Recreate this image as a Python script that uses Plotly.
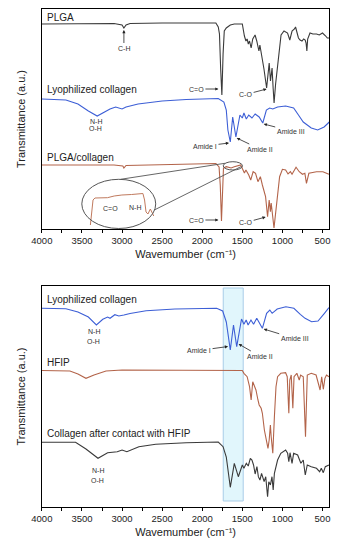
import plotly.graph_objects as go

# ---------------- data (wavenumber cm^-1, transmittance a.u. with offsets) ----------------
# Top panel
plga_wn = [4000, 3800, 3500, 3100, 3000, 2977, 2950, 2900, 2500, 2000, 1830, 1800, 1785, 1770, 1755, 1740,
           1725, 1700, 1650, 1600, 1500, 1474, 1455, 1440, 1425, 1410, 1390, 1370, 1341, 1320, 1293, 1281,
           1260, 1230, 1197, 1185, 1165, 1149, 1129, 1115, 1104, 1085, 1065, 1040, 1017, 980, 950, 936,
           920, 908, 880, 850, 836, 810, 800, 780, 756, 735, 716, 705, 695, 685, 656, 620, 575, 540, 500,
           460, 440, 415]
plga_t = [205, 205, 205.5, 205.5, 204, 201, 204, 205.5, 206, 206.5, 206, 202, 195, 160, 134, 175,
          198, 201, 204, 205, 205, 193, 188, 190, 185, 188, 181, 190, 194, 188, 178, 184,
          175, 160, 141, 150, 166, 148, 161, 140, 126, 145, 161, 182, 194, 198, 197, 196,
          192, 189, 198, 200, 202, 195, 191, 189, 188, 190, 189, 186, 178, 190, 196, 195, 195, 194, 196,
          193, 191, 191]

coll_wn = [4000, 3700, 3550, 3420, 3310, 3200, 3150, 3080, 3000, 2950, 2800, 2500, 2200, 1800, 1730,
           1700, 1680, 1650, 1620, 1580, 1530, 1500, 1480, 1450, 1420, 1380, 1340, 1290, 1245, 1200,
           1160, 1120, 1060, 960, 860, 800, 740, 640, 560, 480, 415]
coll_t = [130, 129, 125, 118, 113, 118, 120, 122, 120, 122, 125, 128, 129.5, 130.5, 127,
          119, 99, 87, 112, 92, 114, 111, 116, 110, 114, 111, 115, 112, 106, 119,
          121, 120, 122, 123, 121, 114, 107, 101, 99, 102, 107]

blend_wn = [4000, 3500, 3100, 2990, 2977, 2950, 2500, 2000, 1830, 1790, 1775, 1760, 1745, 1735, 1700,
            1640, 1600, 1520, 1474, 1455, 1420, 1395, 1365, 1335, 1305, 1275, 1250, 1210, 1185, 1165,
            1150, 1140, 1105, 1065, 1035, 1000, 960, 930, 900, 880, 830, 790, 750, 720, 700, 670, 575,
            495, 420]
blend_t = [64, 64, 64, 63, 61, 63.5, 64.5, 65.5, 65.5, 62, 44, 8, 44, 61, 62.3,
           61, 62.3, 64, 56, 59, 54, 49, 57.3, 55.7, 47.3, 52.3, 44, 32.3, 12.3, 29,
           17.3, 26, 1, 29, 52.3, 59.7, 59, 55, 57.3, 54.7, 61.7, 57.3, 54.7, 55.7, 45.7, 55.7, 57.3,
           57.3, 54.7]

inset_wn = [3395, 3380, 3362, 3338, 3182, 3098, 3002, 2881, 2740, 2719, 2701, 2677, 2647, 2629, 2605]
inset_t = [4, 19, 29, 31, 31.3, 33, 34, 34.5, 35.5, 29, 17, 15, 20, 17, 13]

# Bottom panel
coll2_wn = [4000, 3700, 3550, 3420, 3320, 3240, 3180, 3150, 3090, 3040, 2977, 2900, 2700, 2340, 1820,
            1745, 1700, 1650, 1610, 1570, 1510, 1480, 1452, 1428, 1392, 1360, 1320, 1290, 1250, 1197,
            1157, 1128, 1065, 957, 857, 777, 717, 636, 556, 476, 420]
coll2_t = [198.7, 198.3, 195, 190, 182, 187.7, 190, 188.7, 192.3, 191, 192, 193.5, 196.3, 198, 198.7,
           196, 185, 157, 182, 160.3, 188, 182.7, 187, 182, 187, 182.7, 188.7, 184.7, 178.7, 193.7,
           197, 193.7, 198, 200.3, 198.7, 192.7, 188.7, 185.3, 186, 193.7, 199.3]

hfip_wn = [4000, 3800, 3650, 3550, 3450, 3350, 3200, 3000, 2500, 1800, 1500, 1480, 1440, 1410, 1390,
           1370, 1330, 1305, 1290, 1265, 1250, 1225, 1197, 1180, 1165, 1150, 1140, 1120, 1100, 1080,
           1060, 1020, 960, 940, 920, 908, 890, 870, 855, 820, 790, 773, 740, 712, 690, 640, 580, 550,
           530, 510, 490, 470, 450, 420]
hfip_t = [136.5, 136.5, 136, 133, 128.7, 132, 136, 137, 137, 137, 136.5, 133.7, 130.3, 120.3, 107,
          125.3, 117, 107, 102, 98.7, 93.7, 77, 67, 58.7, 67, 82, 70.3, 53.7, 90.3, 120.3,
          130.3, 133.7, 134.3, 130.3, 93.7, 127, 132, 98.7, 130.3, 133.7, 127, 132, 130.3, 70.3, 132, 133.7, 132, 123.7,
          117, 130.3, 117.7, 128.7, 132, 130.3]

after_wn = [4000, 3580, 3450, 3300, 3180, 3060, 3000, 2940, 2790, 2580, 2200, 1800, 1740, 1700, 1650,
            1600, 1550, 1500, 1480, 1450, 1426, 1400, 1380, 1360, 1340, 1318, 1300, 1280, 1260, 1228,
            1208, 1185, 1170, 1150, 1130, 1115, 1100, 1060, 1020, 960, 935, 920, 905, 880, 860, 810,
            770, 740, 715, 690, 640, 575, 535, 515, 490, 465, 420]
after_t = [64.7, 64.7, 58, 48.7, 54.3, 55.3, 57, 55.3, 60.3, 62.7, 64.3, 65, 60.3, 50, 19.7,
           43.7, 30.3, 42, 38.7, 43.7, 41, 48.7, 47, 42, 33, 40.3, 30.3, 27, 33.7, 25.3,
           30.3, 10.3, 25.3, 22, 30.3, 17, 33.7, 47, 53.7, 57, 53.7, 45.3, 54.3, 43.7, 53.7, 52,
           43.7, 47, 32, 42, 40.3, 38.7, 35.3, 38.7, 34.3, 40.3, 42]

tick_vals = [4000, 3500, 3000, 2500, 2000, 1500, 1000, 500]
tick_text = ["4000", "3500", "3000", "2500", "2000", "1500", "1000", "500"]
x_title = "Wavemumber (cm⁻¹)"
y_title = "Transmittance (a.u.)"

# ---------------- styling ----------------
W, H = 339, 550
GRAY = "#3a3a3a"
BLUE = "#3d5fd6"
BROWN = "#b3644a"
FONT = "Liberation Sans, Arial, sans-serif"
LW = 1.1

def py(px):
    return 1 - px / H

def pxx(px):
    return px / W

fig = go.Figure()

def add_line(wn, t, color, xa, ya, width=LW):
    fig.add_trace(go.Scatter(x=wn, y=t, mode="lines", line=dict(color=color, width=width),
                             xaxis=xa, yaxis=ya, showlegend=False, hoverinfo="skip"))

add_line(plga_wn, plga_t, GRAY, "x", "y")
add_line(coll_wn, coll_t, BLUE, "x", "y")
add_line(blend_wn, blend_t, BROWN, "x", "y")
add_line(inset_wn, inset_t, "#c07a5e", "x", "y", 1.0)
add_line(coll2_wn, coll2_t, BLUE, "x2", "y2")
add_line(hfip_wn, hfip_t, BROWN, "x2", "y2")
add_line(after_wn, after_t, GRAY, "x2", "y2")

xdom = [pxx(32), pxx(330)]
axis_x = dict(range=[4000, 415], tickmode="array", tickvals=tick_vals, ticktext=tick_text,
              ticks="outside", ticklen=3, tickwidth=1, tickcolor="black",
              minor=dict(dtick=250, ticks="outside", ticklen=3, tickcolor="black", tick0=0),
              showline=True, linecolor="black", linewidth=1, mirror=True, showgrid=False,
              zeroline=False, tickfont=dict(family=FONT, size=9.5, color="#222"),
              title=dict(text=x_title, standoff=4, font=dict(family=FONT, size=11, color="#222")))
axis_y = dict(showticklabels=False, ticks="", showline=True, linecolor="black", linewidth=1,
              mirror=True, showgrid=False, zeroline=False,
              title=dict(text=y_title, standoff=13, font=dict(family=FONT, size=11, color="#222")))

fig.update_layout(
    width=W, height=H, margin=dict(l=0, r=0, t=0, b=0),
    paper_bgcolor="white", plot_bgcolor="white",
    xaxis=dict(axis_x, domain=xdom, anchor="y"),
    yaxis=dict(axis_y, domain=[py(229), py(9)], range=[0, 220], anchor="x"),
    xaxis2=dict(axis_x, domain=xdom, anchor="y2"),
    yaxis2=dict(axis_y, domain=[py(507), py(286)], range=[0, 221], anchor="x2"),
)

shapes = []
# shaded amide region in bottom panel
shapes.append(dict(type="rect", xref="x2", yref="y2", x0=1738, x1=1489, y0=6, y1=219,
                   fillcolor="rgba(205,240,250,0.6)", line=dict(color="#a9cde8", width=1), layer="below"))
# inset ellipse, magnified-zone ellipse and connecting lines
shapes.append(dict(type="circle", xref="x", yref="y", x0=3502, x1=2580, y0=0.5, y1=49.7,
                   line=dict(color="#555", width=1)))
shapes.append(dict(type="circle", xref="x", yref="y", x0=1738, x1=1498, y0=59, y1=67.3,
                   line=dict(color="#555", width=1)))
shapes.append(dict(type="line", xref="x", yref="y", x0=3018, y0=49.7, x1=1718, y1=65.7,
                   line=dict(color="#555", width=0.9)))
shapes.append(dict(type="line", xref="x", yref="y", x0=2598, y0=19, x1=1518, y1=62.3,
                   line=dict(color="#555", width=0.9)))
fig.update_layout(shapes=shapes)

ann = []

def label(x, y, text, xr="x", yr="y", size=10, color="#222", xanchor="left"):
    ann.append(dict(x=x, y=y, xref=xr, yref=yr, text=text, showarrow=False, xanchor=xanchor,
                    yanchor="middle", font=dict(family=FONT, size=size, color=color)))

def small(x, y, text, xr="x", yr="y"):
    label(x, y, text, xr, yr, size=7, color="#333", xanchor="center")

def pointer(x, y, text, ax, ay, xr="x", yr="y"):
    # text placed at pixel offset (ax, ay) from the arrow head (x, y)
    ann.append(dict(x=x, y=y, xref=xr, yref=yr, ax=ax, ay=ay, text=text, showarrow=True,
                    arrowhead=2, arrowsize=0.8, arrowwidth=0.8, arrowcolor="#222", standoff=0,
                    borderpad=1, font=dict(family=FONT, size=7, color="#333")))

# panel labels
label(3964, 211, "PLGA")
label(3964, 140, "Lyophilized collagen")
label(3964, 72, "PLGA/collagen")
label(3964, 207.7, "Lyophilized collagen", "x2", "y2")
label(3964, 144.3, "HFIP", "x2", "y2")
label(3964, 73.7, "Collagen after contact with HFIP", "x2", "y2")

# top panel peak annotations
pointer(2977, 199, "C-H", 0, 18)
pointer(1798, 140, "C=O", -22, 0)
pointer(1197, 140, "C-O", -21, 5.5)
small(3326, 108, "N-H"); small(3326, 101, "O-H")
pointer(1666, 86, "Amide I", -24, 3)
pointer(1570, 91, "Amide II", 23, 11)
pointer(1233, 105, "Amide III", 27, 7)
pointer(1798, 9, "C=O", -22, 0)
pointer(1209, 12, "C-O", -20, 5.5)
small(3140, 21, "C=O"); small(2833, 22, "N-H")

# bottom panel annotations
small(3350, 175.3, "N-H", "x2", "y2"); small(3350, 166, "O-H", "x2", "y2")
pointer(1678, 160.5, "Amide I", -29, 4, "x2", "y2")
pointer(1546, 163, "Amide II", 21, 12, "x2", "y2")
pointer(1233, 178, "Amide III", 31, 9.5, "x2", "y2")
small(3302, 36.3, "N-H", "x2", "y2"); small(3302, 27, "O-H", "x2", "y2")

fig.update_layout(annotations=ann)
fig.write_html("out.html", config={"displayModeBar": False},
               post_script="document.body.style.margin='0px';")
